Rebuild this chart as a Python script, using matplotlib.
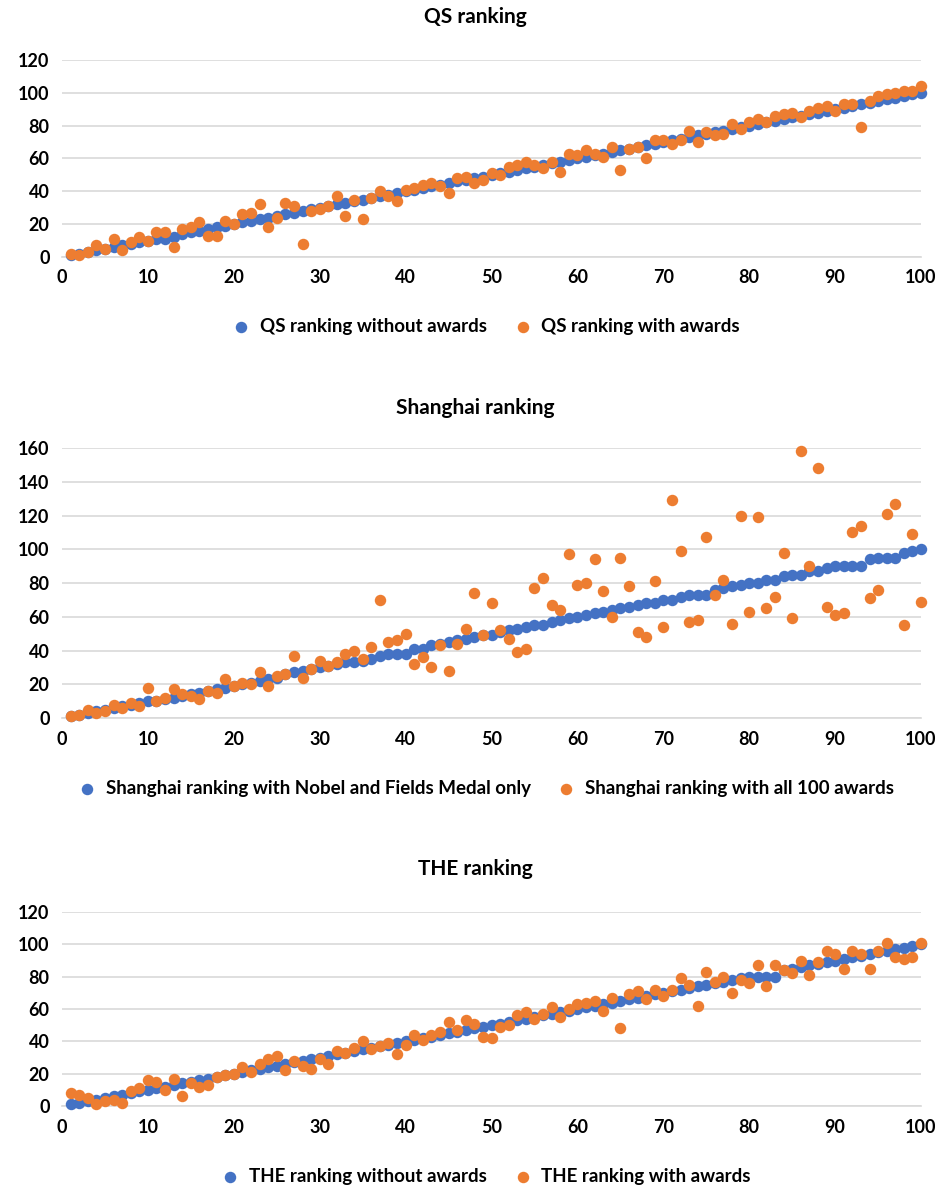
import matplotlib.pyplot as plt

plt.rcParams['font.family'] = ['Lato', 'DejaVu Sans']
plt.rcParams['font.weight'] = 'bold'

# Data
rank = list(range(1, 101))

qs_without = [1, 2, 3, 4, 5, 6, 7, 8, 9, 10, 11, 11, 12, 14, 15, 16, 17, 18, 19, 20,
              21, 22, 23, 24, 25, 26, 27, 28, 29, 30, 31, 32, 33, 34, 35, 36, 37, 38, 39, 40,
              41, 42, 43, 44, 45, 46, 47, 48, 49, 50, 51, 52, 53, 54, 55, 56, 57, 58, 59, 60,
              61, 62, 63, 64, 65, 66, 67, 68, 69, 70, 71, 72, 73, 74, 75, 76, 77, 78, 79, 80,
              81, 82, 83, 84, 85, 86, 87, 88, 89, 90, 91, 92, 93, 94, 95, 96, 97, 98, 99, 100]
qs_with = [2, 1, 3, 7, 5, 11, 4, 9, 12, 10, 15, 15, 6, 17, 18, 21, 13, 13, 22, 20,
           26, 27, 32, 18, 24, 33, 31, 8, 28, 29, 31, 37, 25, 35, 23, 36, 40, 37, 34, 41,
           42, 44, 45, 43, 39, 48, 49, 45, 47, 51, 50, 55, 56, 58, 56, 54, 58, 52, 63, 62,
           65, 63, 61, 67, 53, 66, 67, 60, 71, 71, 69, 71, 77, 70, 76, 74, 75, 81, 78, 82,
           84, 82, 86, 87, 88, 85, 89, 91, 92, 89, 93, 93, 79, 95, 98, 99, 100, 101, 101, 104]

sh_nobel = [1, 2, 3, 4, 5, 6, 7, 8, 9, 10, 10, 11, 12, 13, 14, 15, 16, 17, 18, 19,
            20, 21, 22, 23, 24, 26, 27, 28, 29, 30, 31, 32, 33, 33, 34, 35, 37, 38, 38, 38,
            41, 41, 43, 44, 45, 46, 47, 48, 49, 49, 51, 52, 53, 54, 55, 55, 57, 58, 59, 60,
            61, 62, 63, 64, 65, 66, 67, 68, 68, 70, 70, 72, 73, 73, 73, 76, 77, 78, 79, 80,
            80, 82, 82, 84, 85, 85, 87, 87, 89, 90, 90, 90, 90, 94, 95, 95, 95, 98, 99, 100]
sh_all = [1, 2, 5, 3, 4, 8, 6, 9, 7, 18, 10, 12, 17, 14, 13, 11, 16, 15, 23, 19,
          21, 20, 27, 19, 25, 26, 37, 24, 29, 34, 31, 33, 38, 40, 35, 42, 70, 45, 46, 50,
          32, 36, 30, 43, 28, 44, 53, 74, 49, 68, 52, 47, 39, 41, 77, 83, 67, 64, 97, 79,
          80, 94, 75, 60, 95, 78, 51, 48, 81, 54, 129, 99, 57, 58, 107, 73, 82, 56, 120, 63,
          119, 65, 72, 98, 59, 158, 90, 148, 66, 61, 62, 110, 114, 71, 76, 121, 127, 55, 109, 69]

the_without = [1, 2, 3, 4, 5, 6, 7, 8, 9, 10, 11, 12, 13, 14, 15, 16, 17, 18, 19, 20,
               21, 22, 23, 24, 25, 26, 27, 28, 29, 30, 31, 32, 33, 34, 35, 36, 37, 38, 39, 40,
               41, 42, 43, 44, 45, 46, 47, 48, 49, 50, 51, 52, 53, 54, 55, 56, 57, 58, 59, 60,
               61, 62, 63, 64, 65, 66, 67, 68, 69, 70, 71, 72, 73, 74, 75, 76, 77, 78, 79, 80,
               80, 80, 80, 84, 85, 86, 87, 88, 89, 90, 91, 92, 93, 94, 95, 96, 97, 98, 99, 100]
the_with = [8, 7, 5, 1, 3, 4, 2, 9, 11, 16, 15, 10, 17, 6, 14, 12, 13, 18, 19, 20,
            24, 21, 26, 29, 31, 22, 28, 25, 23, 29, 26, 34, 33, 36, 40, 35, 37, 39, 32, 38,
            44, 41, 44, 46, 52, 47, 53, 51, 43, 42, 49, 50, 56, 58, 54, 57, 61, 55, 60, 63,
            64, 65, 59, 67, 48, 69, 71, 66, 72, 68, 72, 79, 75, 62, 83, 77, 80, 70, 78, 76,
            87, 74, 87, 84, 82, 90, 81, 89, 96, 94, 85, 96, 94, 85, 96, 101, 92, 91, 92, 101]

# title, series1, series2, label1, label2, ymax, axes rect, title y, legend y
panels = [
    ("QS ranking", qs_without, qs_with,
     "QS ranking without awards", "QS ranking with awards", 120,
     [0.0652, 0.7837, 0.9033, 0.1658], 0.9857, 0.7249),
    ("Shanghai ranking", sh_nobel, sh_all,
     "Shanghai ranking with Nobel and Fields Medal only", "Shanghai ranking with all 100 awards", 160,
     [0.0652, 0.3956, 0.9033, 0.2273], 0.6566, 0.3367),
    ("THE ranking", the_without, the_with,
     "THE ranking without awards", "THE ranking with awards", 120,
     [0.0652, 0.0690, 0.9033, 0.1633], 0.2685, 0.0101),
]

blue = '#4472C4'
orange = '#ED7D31'

fig = plt.figure(figsize=(9.51, 11.88), dpi=100)

for title, s1, s2, lab1, lab2, ymax, rect, title_y, leg_y in panels:
    ax = fig.add_axes(rect)
    ax.scatter(rank, s1, s=68, color=blue, label=lab1, zorder=3, linewidths=0, clip_on=False)
    ax.scatter(rank, s2, s=68, color=orange, label=lab2, zorder=4, linewidths=0, clip_on=False)
    ax.set_xlim(0, 100)
    ax.set_ylim(0, ymax)
    ax.set_xticks(range(0, 101, 10))
    ax.set_yticks(range(0, ymax + 1, 20))
    ax.grid(axis='y', color='#D9D9D9', linewidth=1.2, zorder=0)
    ax.set_axisbelow(True)
    for sp in ['top', 'right', 'left']:
        ax.spines[sp].set_visible(False)
    ax.spines['bottom'].set_color('#D9D9D9')
    ax.spines['bottom'].set_linewidth(1.2)
    ax.tick_params(length=0, labelsize=13, pad=9)
    for lbl in ax.get_xticklabels() + ax.get_yticklabels():
        lbl.set_fontweight('bold')
    fig.text(0.5, title_y, title, ha='center', va='center', fontsize=15, fontweight='bold')
    fig.legend(handles=ax.collections, labels=[lab1, lab2], loc='center',
               bbox_to_anchor=(0.506, leg_y), ncol=2, frameon=False,
               prop={'size': 13.5, 'weight': 'bold'}, handletextpad=0.0,
               columnspacing=0.9, markerscale=1.0, scatterpoints=1)

plt.savefig('out.png', dpi=100)
